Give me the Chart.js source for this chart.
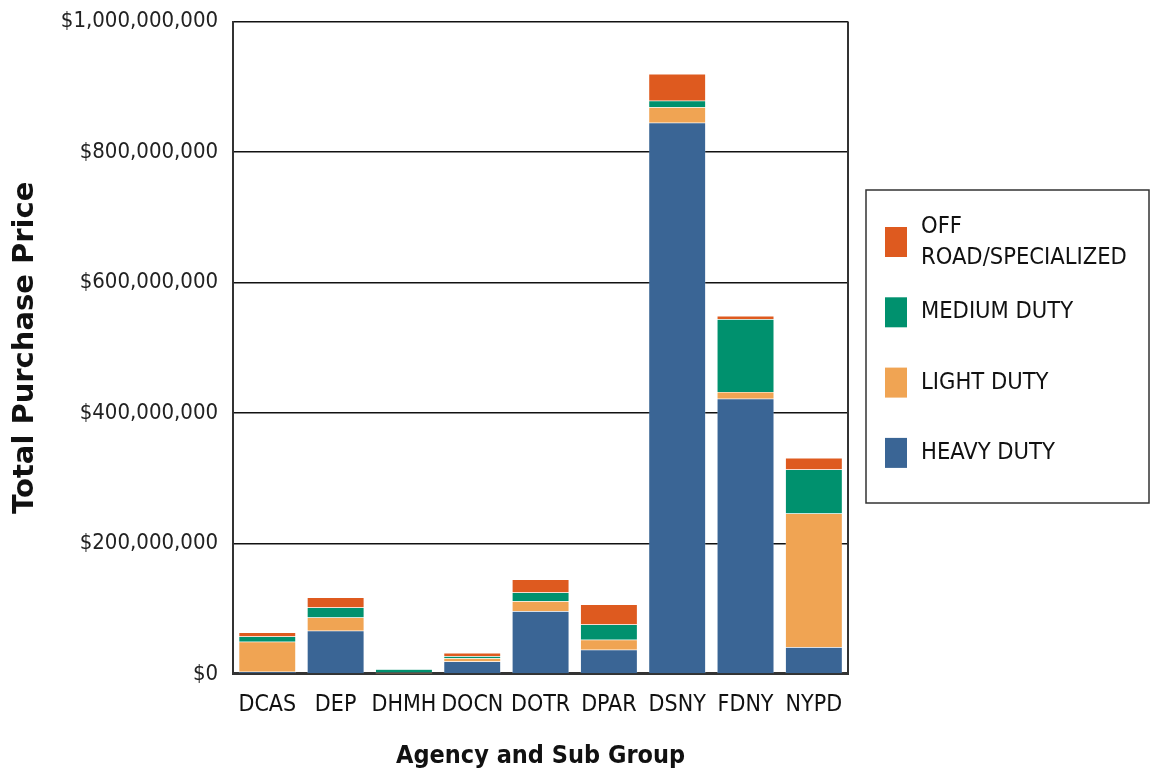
<!DOCTYPE html>
<html>
<head>
<meta charset="utf-8">
<script src="https://cdn.jsdelivr.net/npm/chart.js@4.4.1/dist/chart.umd.min.js"></script>
<style>
  body { margin: 0; background: #fff; }
  #wrap { width: 1150px; height: 774px; position: relative; }
</style>
</head>
<body>
<div id="wrap"><canvas id="myChart"></canvas></div>
<script>
// purchase price per agency, in millions of dollars
const categories = ['DCAS', 'DEP', 'DHMH', 'DOCN', 'DOTR', 'DPAR', 'DSNY', 'FDNY', 'NYPD'];
const heavyDuty  = [3.4, 66, 0.5, 19, 96, 37, 845, 422, 41];
const lightDuty  = [46, 20.5, 1.5, 5, 15.3, 15.3, 23.6, 10.3, 205];
const mediumDuty = [8, 15.3, 5, 3, 13.3, 23.5, 10, 111.5, 67.5];
const offRoad    = [6, 15.3, 0.3, 5, 20, 30.7, 41, 5, 17.4];

const seriesNames  = ['HEAVY DUTY', 'LIGHT DUTY', 'MEDIUM DUTY', 'OFF ROAD/SPECIALIZED'];
const seriesColors = ['#3a6595', '#f0a453', '#00916e', '#de5a1f'];

const yTicks = [0, 200000000, 400000000, 600000000, 800000000, 1000000000];

const NARROW = '"Liberation Sans Narrow", "Arial Narrow", "DejaVu Sans Condensed", sans-serif';

function toDollars(arr) {
    return arr.map(v => v * 1000000);
}

function makeDataset(i, values) {
    return {
        label: seriesNames[i],
        data: toDollars(values),
        backgroundColor: seriesColors[i],
        borderColor: 'rgba(255,255,255,0.5)',
        borderWidth: 0.5,
        barPercentage: 0.834,
        categoryPercentage: 1.0
    };
}

// legend box on the right, drawn by hand so the long label can wrap
const boxLegend = {
    id: 'boxLegend',
    afterDraw(chart) {
        const ctx = chart.ctx;
        const x0 = chart.chartArea.right + 18;
        const y0 = 190, w = 283, h = 313;
        ctx.save();
        ctx.strokeStyle = '#333';
        ctx.lineWidth = 1.5;
        ctx.strokeRect(x0, y0, w, h);
        ctx.font = '23.5px ' + NARROW;
        ctx.textBaseline = 'middle';
        const rows = [
            { i: 3, lines: ['OFF', 'ROAD/SPECIALIZED'] },
            { i: 2, lines: [seriesNames[2]] },
            { i: 1, lines: [seriesNames[1]] },
            { i: 0, lines: [seriesNames[0]] }
        ];
        rows.forEach((r, k) => {
            const cy = 242 + k * 70.3;
            ctx.fillStyle = seriesColors[r.i];
            ctx.fillRect(x0 + 19, cy - 15, 22, 30);
            ctx.fillStyle = '#111';
            const lh = 31;
            const start = cy - (r.lines.length - 1) * lh / 2;
            r.lines.forEach((t, j) => ctx.fillText(t, x0 + 55, start + j * lh));
        });
        ctx.restore();
    }
};

// right-hand frame of the plot area
const rightFrame = {
    id: 'rightFrame',
    beforeDatasetsDraw(chart) {
        const { ctx, chartArea } = chart;
        ctx.save();
        ctx.strokeStyle = '#333';
        ctx.lineWidth = 2;
        ctx.beginPath();
        ctx.moveTo(chartArea.right, chartArea.top);
        ctx.lineTo(chartArea.right, chartArea.bottom);
        ctx.stroke();
        ctx.restore();
    }
};

window.onload = function() {
    const ctx = document.getElementById('myChart').getContext('2d');
    const myChart = new Chart(ctx, {
        type: 'bar',
        data: {
            labels: categories,
            datasets: [
                makeDataset(0, heavyDuty),
                makeDataset(1, lightDuty),
                makeDataset(2, mediumDuty),
                makeDataset(3, offRoad)
            ]
        },
        options: {
            responsive: true,
            maintainAspectRatio: false,
            animation: false,
            layout: { padding: { top: 0, right: 302, left: 0, bottom: 0 } },
            plugins: {
                legend: { display: false },
                tooltip: { enabled: false }
            },
            scales: {
                x: {
                    stacked: true,
                    grid: { display: false },
                    border: { color: '#333', width: 3 },
                    ticks: {
                        color: '#111',
                        padding: 9.5,
                        autoSkip: false,
                        maxRotation: 0,
                        minRotation: 0,
                        font: { family: NARROW, size: 23 }
                    },
                    title: {
                        display: true,
                        text: 'Agency and Sub Group',
                        color: '#111',
                        padding: { top: 12.5, bottom: 3 },
                        font: { family: NARROW, size: 25, weight: 'bold' }
                    }
                },
                y: {
                    stacked: true,
                    min: 0,
                    max: 1000000000,
                    afterBuildTicks(axis) {
                        axis.ticks = yTicks.map(v => ({ value: v }));
                    },
                    grid: { color: '#111', lineWidth: 1.5, drawTicks: false },
                    border: { color: '#333', width: 2 },
                    ticks: {
                        color: '#222',
                        padding: 15,
                        font: { family: NARROW, size: 22, lineHeight: 0.6 },
                        callback: v => '$' + Number(v).toLocaleString('en-US')
                    },
                    title: {
                        display: true,
                        text: 'Total Purchase Price',
                        color: '#111',
                        padding: { top: 8, bottom: 3 },
                        font: { family: '"DejaVu Sans", sans-serif', size: 29, weight: 'bold' }
                    }
                }
            }
        },
        plugins: [rightFrame, boxLegend]
    });
};
</script>
</body>
</html>
